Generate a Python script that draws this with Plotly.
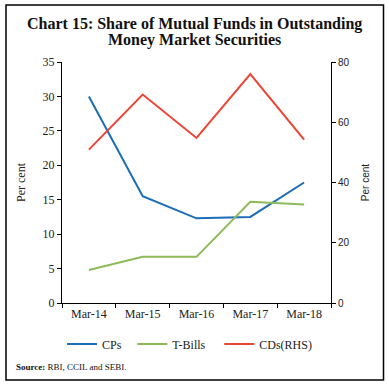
import plotly.graph_objects as go

categories = ["Mar-14", "Mar-15", "Mar-16", "Mar-17", "Mar-18"]
cps = [30.0, 15.5, 12.3, 12.5, 17.5]
tbills = [4.8, 6.7, 6.7, 14.7, 14.3]
cds_rhs = [50.9, 69.2, 54.8, 76.0, 54.2]

W, H = 389, 387
L, R, T, B = 62, 58, 62, 84
PW = W - L - R
PH = H - T - B

def px(x):
    return (x - L) / PW

def py(y):
    return (H - B - y) / PH

SERIF = "Liberation Serif"
SANS = "Liberation Sans"
NB = "\u00a0"

fig = go.Figure()
fig.add_trace(go.Scatter(x=categories, y=cps, name="CPs" + NB * 2, mode="lines",
                         line=dict(color="#1B6DB7", width=2)))
fig.add_trace(go.Scatter(x=categories, y=tbills, name="T-Bills" + NB * 3, mode="lines",
                         line=dict(color="#8DBB5A", width=2)))
fig.add_trace(go.Scatter(x=categories, y=cds_rhs, name="CDs(RHS)", mode="lines",
                         line=dict(color="#EE4433", width=2), yaxis="y2"))

fig.update_layout(
    width=W, height=H,
    margin=dict(l=L, r=R, t=T, b=B),
    paper_bgcolor="white", plot_bgcolor="white",
    font=dict(family=SERIF, size=12, color="#222"),
    xaxis=dict(type="category", range=[-0.5, 4.5], showline=True, linecolor="black",
               linewidth=1, ticks="outside", tickson="boundaries", ticklen=4,
               tickcolor="black", showgrid=False, zeroline=False,
               tickfont=dict(family=SERIF, size=12)),
    yaxis=dict(range=[0, 35], dtick=5, showline=True, linecolor="black", linewidth=1,
               ticks="outside", ticklen=4, tickcolor="black", showgrid=False,
               zeroline=False, tickfont=dict(family=SERIF, size=12),
               title=dict(text="Per cent", font=dict(family=SERIF, size=12), standoff=14)),
    yaxis2=dict(range=[0, 80], dtick=20, overlaying="y", side="right", showline=True,
                linecolor="black", linewidth=1, ticks="outside", ticklen=4,
                tickcolor="black", showgrid=False, zeroline=False,
                tickfont=dict(family=SANS, size=10),
                title=dict(text="Per cent", font=dict(family=SANS, size=10), standoff=13)),
    showlegend=True,
    legend=dict(orientation="h", x=px(62), xanchor="left", y=py(344), yanchor="middle",
                font=dict(family=SERIF, size=12), bgcolor="rgba(0,0,0,0)",
                itemwidth=30, tracegroupgap=0),
)

title_lines = ["Chart 15: Share of Mutual Funds in Outstanding", "Money Market Securities"]
for txt, yc in zip(title_lines, [24, 40]):
    fig.add_annotation(text="<b>" + txt + "</b>",
                       x=px(194.5), y=py(yc), xref="paper", yref="paper", showarrow=False,
                       xanchor="center", yanchor="middle",
                       font=dict(family=SERIF, size=16, color="#111"))
fig.add_annotation(text="<b>Source:</b> RBI, CCIL and SEBI.",
                   x=px(14), y=py(367), xref="paper", yref="paper", showarrow=False,
                   xanchor="left", yanchor="middle",
                   font=dict(family=SERIF, size=9, color="#111"))

fig.add_shape(type="rect", xref="paper", yref="paper",
              x0=px(6), x1=px(383.5), y0=py(380), y1=py(5),
              line=dict(color="black", width=1.5), fillcolor="rgba(0,0,0,0)", layer="below")

fig.write_html("out.html", config={"displayModeBar": False},
               post_script="document.body.style.margin='0';document.body.style.overflow='hidden';")
